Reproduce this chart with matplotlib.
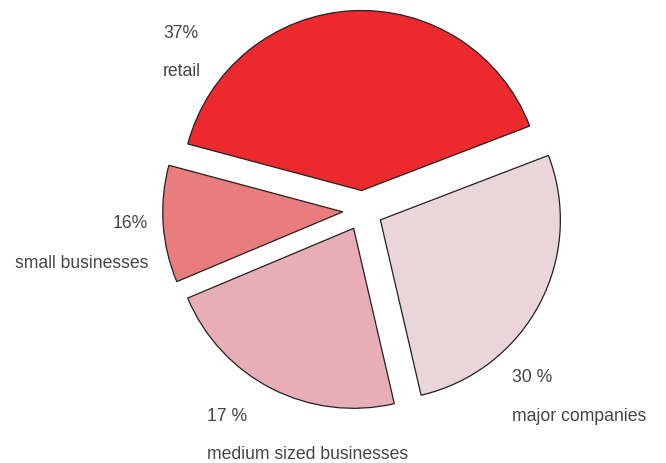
import matplotlib.pyplot as plt

# wedge order: clockwise from the upper right
categories = ["major companies", "medium sized businesses", "small businesses", "retail"]
pct_labels = ["30 %", "17 %", "16%", "37%"]
# angular share of each wedge as drawn in the picture
wedge_share = [27.2, 22.3, 10.5, 40.0]
colors = ["#EAD5DB", "#E8AEB8", "#E97C7C", "#EC2A2E"]

W, H = 666, 464

fig = plt.figure(figsize=(W / 100, H / 100), dpi=100)
ax = fig.add_axes([0, 0, 1, 1])

# explode is an absolute offset here (axes units = pixels)
ax.pie(wedge_share, colors=colors, startangle=21, counterclock=False,
       explode=[20] * 4, radius=180, center=(362.7, H - 211.5),
       wedgeprops=dict(edgecolor="#231f20", linewidth=0.9))
ax.set_xlim(0, W)
ax.set_ylim(0, H)
ax.axis("off")

txt = dict(fontsize=12.7, color="#454545", family="Liberation Sans", va="center")
# (x, y_pct, y_name, ha) in image pixels
label_pos = {
    "retail": (163, 33, 72, "left"),
    "small businesses": (148, 224, 263, "right"),
    "major companies": (512, 378, 417, "left"),
    "medium sized businesses": (207, 417, 455, "left"),
}
for name, pct in zip(categories, pct_labels):
    x, yp, yn, ha = label_pos[name]
    ax.text(x, H - yp, pct, ha=ha, **txt)
    ax.text(x, H - yn, name, ha=ha, **txt)

fig.savefig("out.png", dpi=100)
